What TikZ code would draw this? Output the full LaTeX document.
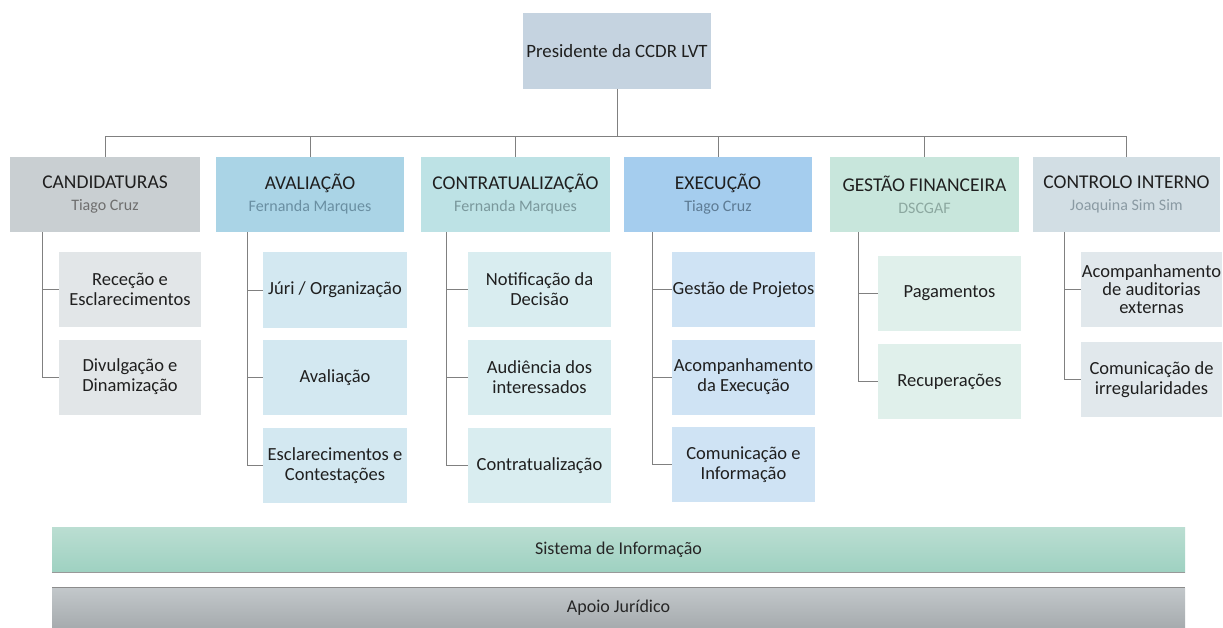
\documentclass[tikz,border=0pt]{standalone}
\usepackage{fontspec}
\setmainfont{Carlito}
\begin{document}
\begin{tikzpicture}[x=1pt,y=-1pt,
  box/.style={rectangle,inner sep=0pt,align=center,text=black!88,font=\fontsize{18.5}{20}\selectfont},
  head/.style={box,minimum height=75pt},
  sub/.style={box,minimum height=75pt},
  conn/.style={draw=black!50,line width=0.8pt},
  bar/.style={rectangle,inner sep=0pt,minimum width=1133pt,font=\fontsize{18}{20}\selectfont,text=black!85}
]
\definecolor{cpres}{HTML}{C5D3E0}
\definecolor{ccand}{HTML}{C9CFD2}\definecolor{ccandL}{HTML}{E2E6E8}
\definecolor{caval}{HTML}{AAD4E6}\definecolor{cavalL}{HTML}{D3E8F1}
\definecolor{ccont}{HTML}{BDE2E5}\definecolor{ccontL}{HTML}{D9EDF0}
\definecolor{cexec}{HTML}{A5CDEE}\definecolor{cexecL}{HTML}{CFE3F4}
\definecolor{cgest}{HTML}{C8E6DC}\definecolor{cgestL}{HTML}{E0F0EB}
\definecolor{cctrl}{HTML}{D2DEE4}\definecolor{cctrlL}{HTML}{E1E8EC}
\newcommand{\hd}[3]{{\fontsize{19.5}{21}\selectfont #1}\\[2pt]{\fontsize{16}{17}\selectfont\color[HTML]{#3}#2}}
\useasboundingbox[fill=white] (0,0) rectangle (1223,628);

% president
\node[box,fill=cpres,minimum width=188pt,minimum height=76pt,font=\fontsize{18.8}{20}\selectfont] (pres) at (617,51) {Presidente da CCDR LVT};

% level 1
\node[head,fill=ccand,minimum width=190pt] (cand) at (105,194.5) {\hd{CANDIDATURAS}{Tiago Cruz}{6E6E6E}};
\node[head,fill=caval,minimum width=188pt] (aval) at (310,194.5) {\hd{AVALIAÇÃO}{Fernanda Marques}{6A8FA2}};
\node[head,fill=ccont,minimum width=189pt] (cont) at (515.5,194.5) {\hd{CONTRATUALIZAÇÃO}{Fernanda Marques}{7A989C}};
\node[head,fill=cexec,minimum width=188pt] (exec) at (718,194.5) {\hd{EXECUÇÃO}{Tiago Cruz}{5D7B94}};
\node[head,fill=cgest,minimum width=189pt] (gest) at (924.5,194.5) {\hd{GESTÃO FINANCEIRA}{DSCGAF}{8CA8A0}};
\node[head,fill=cctrl,minimum width=187pt] (ctrl) at (1126.5,194.5) {\hd{CONTROLO INTERNO}{Joaquina Sim Sim}{8A9AA3}};

% children
\node[sub,fill=ccandL,minimum width=142pt] (c1) at (130,289.5) {Receção e\\Esclarecimentos};
\node[sub,fill=ccandL,minimum width=142pt] (c2) at (130,377) {Divulgação e\\Dinamização};

\node[sub,fill=cavalL,minimum width=144pt] (a1) at (335,290) {Júri / Organização};
\node[sub,fill=cavalL,minimum width=144pt] (a2) at (335,377.5) {Avaliação};
\node[sub,fill=cavalL,minimum width=144pt] (a3) at (335,465.5) {Esclarecimentos e\\Contestações};

\node[sub,fill=ccontL,minimum width=143pt] (t1) at (539.5,289.5) {Notificação da\\Decisão};
\node[sub,fill=ccontL,minimum width=143pt] (t2) at (539.5,377) {Audiência dos\\interessados};
\node[sub,fill=ccontL,minimum width=143pt] (t3) at (539.5,465.5) {Contratualização};

\node[sub,fill=cexecL,minimum width=143pt] (e1) at (743.5,289.5) {Gestão de Projetos};
\node[sub,fill=cexecL,minimum width=143pt] (e2) at (743.5,377) {Acompanhamento\\da Execução};
\node[sub,fill=cexecL,minimum width=143pt] (e3) at (743.5,464.5) {Comunicação e\\Informação};

\node[sub,fill=cgestL,minimum width=143pt] (g1) at (949.5,293.5) {Pagamentos};
\node[sub,fill=cgestL,minimum width=143pt] (g2) at (949.5,381.5) {Recuperações};

\node[sub,fill=cctrlL,minimum width=141pt,font=\fontsize{18.5}{18}\selectfont] (k1) at (1151.5,289.5) {Acompanhamento\\de auditorias\\externas};
\node[sub,fill=cctrlL,minimum width=141pt] (k2) at (1151.5,379.5) {Comunicação de\\irregularidades};

% top connectors
\coordinate (bus) at (617,136);
\draw[conn] (pres.south) -- (bus);
\foreach \n in {cand,aval,cont,exec,gest,ctrl}{\draw[conn] (bus) -| (\n.north);}

% child connectors
\draw[conn] ([xshift=33pt]cand.south west) |- (c2.west);
\draw[conn] ([xshift=33pt]cand.south west) |- (c1.west);
\draw[conn] ([xshift=32pt]aval.south west) |- (a3.west);
\draw[conn] ([xshift=32pt]aval.south west) |- (a2.west);
\draw[conn] ([xshift=32pt]aval.south west) |- (a1.west);
\draw[conn] ([xshift=26pt]cont.south west) |- (t3.west);
\draw[conn] ([xshift=26pt]cont.south west) |- (t2.west);
\draw[conn] ([xshift=26pt]cont.south west) |- (t1.west);
\draw[conn] ([xshift=29pt]exec.south west) |- (e3.west);
\draw[conn] ([xshift=29pt]exec.south west) |- (e2.west);
\draw[conn] ([xshift=29pt]exec.south west) |- (e1.west);
\draw[conn] ([xshift=29pt]gest.south west) |- (g2.west);
\draw[conn] ([xshift=29pt]gest.south west) |- (g1.west);
\draw[conn] ([xshift=32pt]ctrl.south west) |- (k2.west);
\draw[conn] ([xshift=32pt]ctrl.south west) |- (k1.west);

% bottom bars
\node[bar,minimum height=45pt,top color={rgb,255:red,187;green,222;blue,210},bottom color={rgb,255:red,158;green,209;blue,193}] (si) at (618.5,549.5) {Sistema de Informação};
\draw[draw=black!40,line width=0.8pt] (si.south west) -- (si.south east);
\node[bar,minimum height=40pt,top color={rgb,255:red,194;green,199;blue,202},bottom color={rgb,255:red,166;green,171;blue,174}] (aj) at (618.5,608) {Apoio Jurídico};
\draw[draw=black!45,line width=0.8pt] (aj.north west) -- (aj.north east);
\end{tikzpicture}
\end{document}
